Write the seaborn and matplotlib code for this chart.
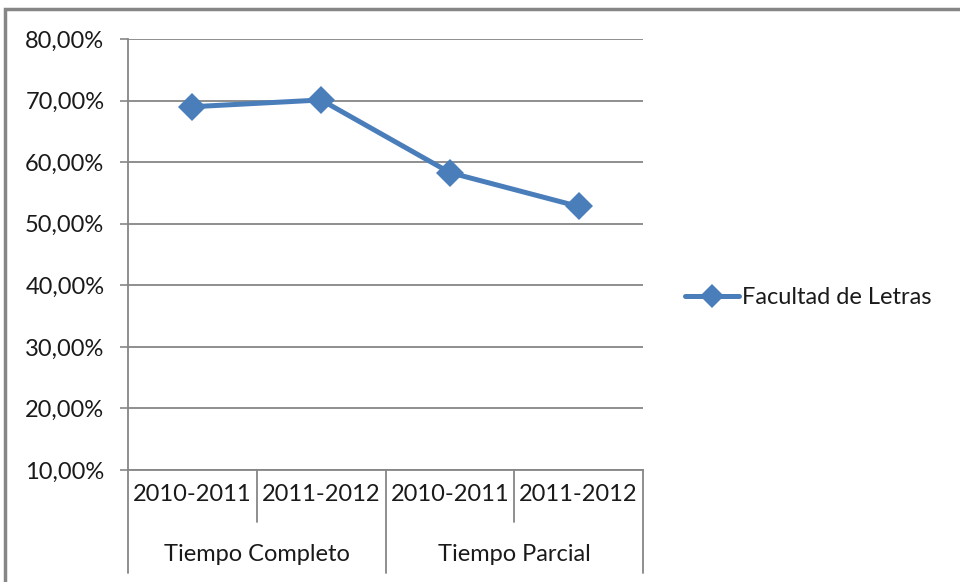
import matplotlib
matplotlib.use("Agg")
import matplotlib.pyplot as plt
import seaborn as sns
import pandas as pd
from matplotlib.patches import Rectangle
from matplotlib.ticker import FuncFormatter

# data
years = ["2010-2011", "2011-2012", "2010-2011", "2011-2012"]
groups = ["Tiempo Completo", "Tiempo Parcial"]
values = [0.690, 0.701, 0.583, 0.528]
series_name = "Facultad de Letras"
y_ticks = [0.10, 0.20, 0.30, 0.40, 0.50, 0.60, 0.70, 0.80]

df = pd.DataFrame({"pos": range(len(values)), "valor": values})

sns.set_theme(style="white")
plt.rcParams["font.family"] = ["Lato", "DejaVu Sans"]

blue = "#4A7EBB"
grey = "#868686"
txt = "#1a1a1a"
fs = 17

fig = plt.figure(figsize=(9.6, 5.82), dpi=100)
ax = fig.add_axes([128 / 960, 1 - 470 / 582, 515 / 960, 431 / 582])

sns.lineplot(data=df, x="pos", y="valor", ax=ax, color=blue, linewidth=3.6,
             marker="D", markersize=14, markeredgewidth=0, label=series_name)

ax.set_xlim(-0.5, 3.5)
ax.set_ylim(0.10, 0.80)
ax.set_yticks(y_ticks)
ax.yaxis.set_major_formatter(FuncFormatter(lambda v, p: f"{v * 100:.2f}%".replace(".", ",")))
ax.set_xticks([])
ax.set_xlabel("")
ax.set_ylabel("")
ax.grid(axis="y", color=grey, linewidth=1.3)
ax.set_axisbelow(True)
ax.tick_params(axis="y", length=6, width=1.2, color=grey, pad=11, labelsize=fs, labelcolor=txt, left=True)
for side in ["top", "right"]:
    ax.spines[side].set_visible(False)
for side in ["left", "bottom"]:
    ax.spines[side].set_color(grey)
    ax.spines[side].set_linewidth(1.3)

# multi-level category axis
tr = ax.get_xaxis_transform()
for i, yr in enumerate(years):
    ax.text(i, -0.058, yr, transform=tr, ha="center", va="center", fontsize=fs, color=txt, clip_on=False)
for j, g in enumerate(groups):
    ax.text(2 * j + 0.5, -0.197, g, transform=tr, ha="center", va="center", fontsize=fs, color=txt, clip_on=False)
for xb in [-0.5, 0.5, 1.5, 2.5, 3.5]:
    bottom = -0.239 if xb in (-0.5, 1.5, 3.5) else -0.1206
    ax.plot([xb, xb], [0, bottom], transform=tr, color=grey, linewidth=1.3, clip_on=False)

leg = ax.legend(loc="center left", bbox_to_anchor=(1.04, 0.4), frameon=False,
                fontsize=fs, handlelength=2.3, handletextpad=0.1, markerscale=0.85)
for t in leg.get_texts():
    t.set_color(txt)

# chart frame
fig.patches.append(Rectangle((5 / 960, -0.1), 1.2, 1 - 9 / 582 + 0.1, transform=fig.transFigure,
                             fill=False, edgecolor=grey, linewidth=2.5))

fig.savefig("out.png", dpi=100)
